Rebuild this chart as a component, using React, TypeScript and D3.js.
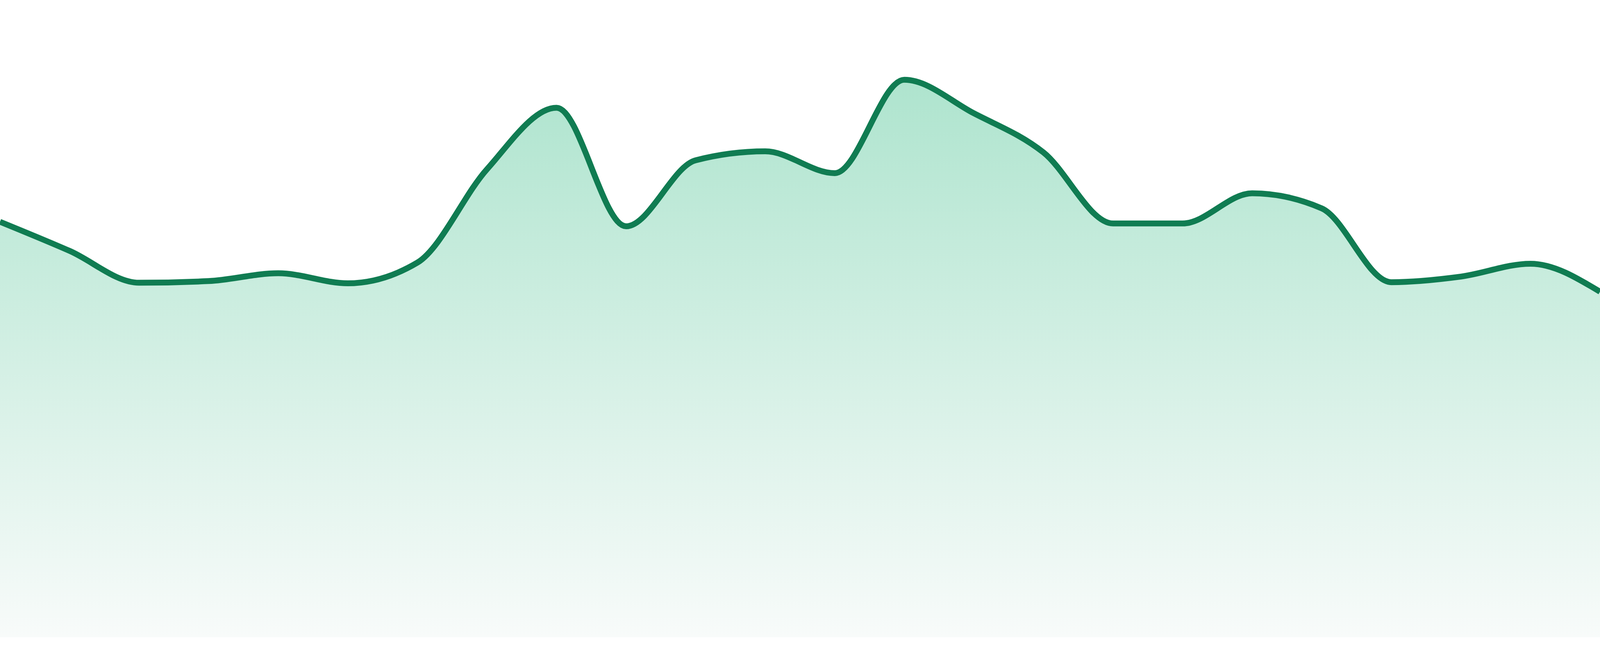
import React from "react";
import * as d3 from "d3";

const REF_W = 4800;
const REF_H = 1680;

// 24 equally spaced observations (index → value)
const categories: number[] = d3.range(24);
const values: number[] = [
  74.3, 69.1, 63.4, 63.7, 65.1, 63.3, 67.0, 83.7, 94.7, 73.5, 85.3, 86.9,
  83.0, 99.7, 93.7, 86.7, 74.0, 74.0, 79.4, 76.7, 63.5, 64.5, 66.8, 61.8,
];
const yDomain: [number, number] = [0, 100];

type Datum = { c: number; v: number };

export default function App() {
  // The browser's viewport may be narrower than requested; fill whatever it is.
  const W = typeof window !== "undefined" && window.innerWidth ? window.innerWidth : REF_W;
  const H = typeof window !== "undefined" && window.innerHeight ? window.innerHeight : REF_H;
  const sy = H / REF_H;

  const x = d3
    .scaleLinear()
    .domain([0, categories.length - 1])
    .range([0, W]);
  const y = d3
    .scaleLinear()
    .domain(yDomain)
    .range([1632 * sy, 200 * sy]);

  const data: Datum[] = categories.map((c, i) => ({ c, v: values[i] }));

  const area = d3
    .area<Datum>()
    .x((d) => x(d.c))
    .y0(y(0))
    .y1((d) => y(d.v))
    .curve(d3.curveMonotoneX);

  const line = d3
    .line<Datum>()
    .x((d) => x(d.c))
    .y((d) => y(d.v))
    .curve(d3.curveMonotoneX);

  return (
    <svg
      width={W}
      height={H}
      style={{
        position: "fixed",
        left: 0,
        top: 0,
        display: "block",
        background: "#ffffff",
      }}
    >
      <defs>
        <linearGradient
          id="areaFill"
          gradientUnits="userSpaceOnUse"
          x1={0}
          y1={y(100)}
          x2={0}
          y2={y(0)}
        >
          <stop offset="0%" stopColor="rgb(174,228,206)" />
          <stop offset="100%" stopColor="rgb(248,251,250)" />
        </linearGradient>
      </defs>
      <path d={area(data) ?? ""} fill="url(#areaFill)" stroke="none" />
      <path
        d={line(data) ?? ""}
        fill="none"
        stroke="#107c52"
        strokeWidth={15 * sy}
        strokeLinejoin="round"
        strokeLinecap="butt"
      />
    </svg>
  );
}
